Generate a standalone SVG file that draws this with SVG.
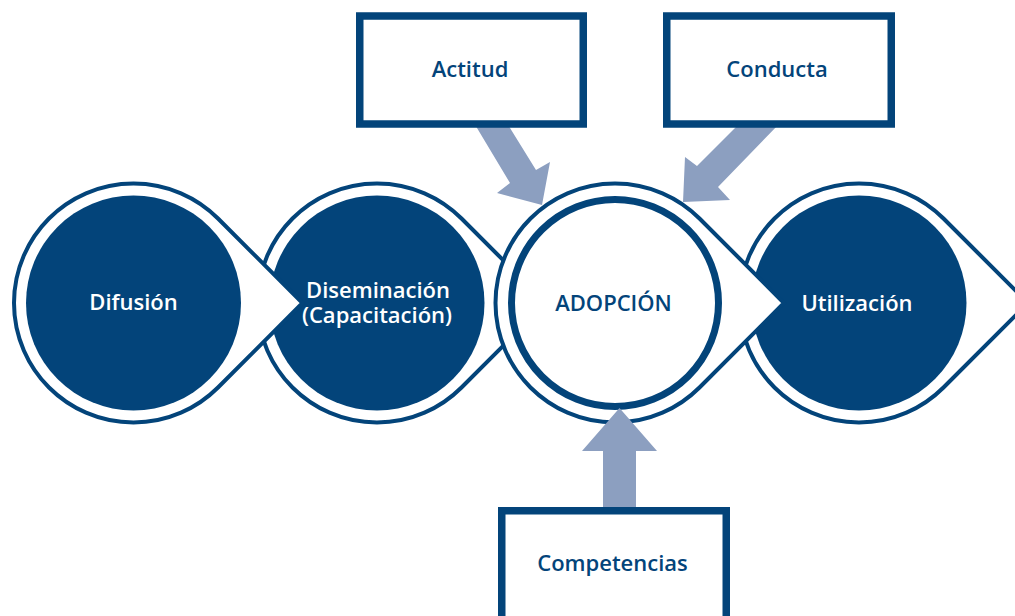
<svg xmlns="http://www.w3.org/2000/svg" width="1015" height="616" viewBox="0 0 1015 616">
<style>
.tear{fill:#ffffff;stroke:#03447a;stroke-width:4;stroke-linejoin:miter}
.core{fill:#03447a}
.ring{fill:#ffffff;stroke:#03447a;stroke-width:7}
.box{fill:#ffffff;stroke:#03447a;stroke-width:7.5}
.arrow{fill:#8c9fc0}
.lw{font-family:"Open Sans","Noto Sans",sans-serif;font-weight:600;font-size:22px;fill:#ffffff;text-anchor:middle}
.lb{font-family:"Open Sans","Noto Sans",sans-serif;font-weight:600;font-size:22px;fill:#03447a;text-anchor:middle}
</style>
<rect width="1015" height="616" fill="#ffffff"/>
<g id="node-diseminacion">
<path class="tear" d="M461.5,218.5 L546,303 L461.5,387.5 A119.5,119.5 0 1 1 461.5,218.5 Z"/>
<circle class="core" cx="377" cy="303" r="107.5"/>
<text class="lw" x="378" y="297.5">Diseminación<tspan x="377" dy="25">(Capacitación)</tspan></text>
</g>
<g id="node-difusion">
<path class="tear" d="M218,218.5 L302.5,303 L218,387.5 A119.5,119.5 0 1 1 218,218.5 Z"/>
<circle class="core" cx="133.5" cy="303" r="107.5"/>
<text class="lw" x="133.5" y="310">Difusión</text>
</g>
<g id="node-utilizacion">
<path class="tear" d="M943.5,218.5 L1028,303 L943.5,387.5 A119.5,119.5 0 1 1 943.5,218.5 Z"/>
<circle class="core" cx="859" cy="303" r="107.5"/>
<text class="lw" x="857" y="310.5">Utilización</text>
</g>
<g id="node-adopcion">
<path class="tear" d="M699.5,218.5 L784,303 L699.5,387.5 A119.5,119.5 0 1 1 699.5,218.5 Z"/>
<circle class="ring" cx="615" cy="303" r="103.5"/>
<text class="lb" x="613.5" y="310.5">ADOPCIÓN</text>
</g>
<g id="connectors">
<polygon class="arrow" points="474.6,124 510,183 497,193 542,205 550,162 536,170 507.5,124"/>
<polygon class="arrow" points="739,124 697,166 685,157 683,202 730,200 718,187 779,124"/>
<polygon class="arrow" points="603,512 603,451 582,451 619.5,408 657,451 636,451 636,512"/>
</g>
<g id="node-actitud">
<rect class="box" x="359.75" y="16" width="223.5" height="108"/>
<text class="lb" x="470" y="76.5">Actitud</text>
</g>
<g id="node-conducta">
<rect class="box" x="666.75" y="16" width="224.5" height="108"/>
<text class="lb" x="777" y="76.5">Conducta</text>
</g>
<g id="node-competencias">
<rect class="box" x="501.75" y="510.75" width="224.5" height="120"/>
<text class="lb" x="612.5" y="570.5">Competencias</text>
</g>
</svg>
